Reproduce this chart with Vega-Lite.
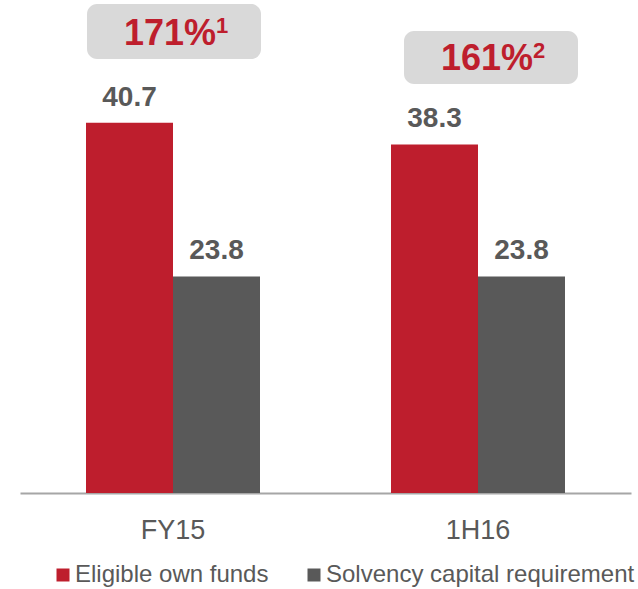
{
  "$schema": "https://vega.github.io/schema/vega-lite/v6.json",
  "width": 611,
  "height": 493,
  "autosize": "none",
  "padding": {"left": 20, "top": 0, "right": 7, "bottom": 96},
  "background": "white",
  "config": {"view": {"stroke": null}, "font": "Liberation Sans"},
  "datasets": {
    "solvency": [
      {"period": "FY15", "series": "Eligible own funds", "value": 40.7},
      {"period": "FY15", "series": "Solvency capital requirement", "value": 23.8},
      {"period": "1H16", "series": "Eligible own funds", "value": 38.3},
      {"period": "1H16", "series": "Solvency capital requirement", "value": 23.8}
    ],
    "ratios": [
      {"period": "FY15", "ratio": "171%", "note": "1"},
      {"period": "1H16", "ratio": "161%", "note": "2"}
    ]
  },
  "data": {"name": "solvency"},
  "encoding": {
    "x": {
      "field": "period", "type": "nominal", "sort": ["FY15", "1H16"],
      "scale": {"paddingInner": 0.4295, "paddingOuter": 0.2164},
      "axis": {
        "title": null, "labelAngle": 0, "ticks": false, "tickSize": 0,
        "domainColor": "#A6A6A6", "domainWidth": 2,
        "labelFontSize": 27, "labelColor": "#595959", "labelFont": "Liberation Sans",
        "labelPadding": 45, "labelBaseline": "alphabetic"
      }
    },
    "y": {
      "field": "value", "type": "quantitative",
      "scale": {"domain": [0, 54.18], "nice": false, "zero": true},
      "axis": null
    }
  },
  "layer": [
    {
      "mark": {"type": "bar"},
      "encoding": {
        "xOffset": {"field": "series", "type": "nominal", "scale": {"paddingInner": 0, "paddingOuter": 0}},
        "color": {
          "field": "series", "type": "nominal",
          "scale": {"domain": ["Eligible own funds", "Solvency capital requirement"], "range": ["#BE1E2D", "#595959"]},
          "legend": {
            "orient": "none", "legendX": 31, "legendY": 563, "direction": "horizontal",
            "title": null, "symbolType": "square", "symbolSize": 169, "symbolStrokeWidth": 0,
            "labelFontSize": 24, "labelFont": "Liberation Sans", "labelColor": "#595959",
            "labelOffset": 0, "columnPadding": 33, "padding": 0, "labelLimit": 400
          }
        }
      }
    },
    {
      "mark": {"type": "text", "dy": -17, "baseline": "alphabetic", "fontSize": 28, "fontWeight": "bold", "font": "Liberation Sans", "color": "#595959"},
      "encoding": {
        "xOffset": {"field": "series", "type": "nominal", "scale": {"paddingInner": 0, "paddingOuter": 0}},
        "text": {"field": "value", "type": "quantitative", "format": ".1f"}
      }
    },
    {
      "transform": [
        {"filter": "datum.series === 'Eligible own funds' && datum.period === 'FY15'"},
        {"lookup": "period", "from": {"data": {"name": "ratios"}, "key": "period", "fields": ["ratio", "note"]}}
      ],
      "layer": [
        {
          "mark": {"type": "rect", "fill": "#D9D9D9", "cornerRadius": 10, "xOffset": 1, "yOffset": -118.6, "y2Offset": -63.6},
          "encoding": {"y2": {"field": "value"}}
        },
        {
          "mark": {"type": "text", "align": "right", "dx": 43, "dy": -77.6, "baseline": "alphabetic", "fontSize": 36, "fontWeight": "bold", "font": "Liberation Sans", "color": "#BE1E2D"},
          "encoding": {"text": {"field": "ratio"}}
        },
        {
          "mark": {"type": "text", "align": "left", "dx": 43, "dy": -89.6, "baseline": "alphabetic", "fontSize": 22, "fontWeight": "bold", "font": "Liberation Sans", "color": "#BE1E2D"},
          "encoding": {"text": {"field": "note"}}
        }
      ]
    },
    {
      "transform": [
        {"filter": "datum.series === 'Eligible own funds' && datum.period === '1H16'"},
        {"lookup": "period", "from": {"data": {"name": "ratios"}, "key": "period", "fields": ["ratio", "note"]}}
      ],
      "layer": [
        {
          "mark": {"type": "rect", "fill": "#D9D9D9", "cornerRadius": 10, "xOffset": 13, "yOffset": -113.5, "y2Offset": -60.5},
          "encoding": {"y2": {"field": "value"}}
        },
        {
          "mark": {"type": "text", "align": "right", "dx": 55, "dy": -74.5, "baseline": "alphabetic", "fontSize": 36, "fontWeight": "bold", "font": "Liberation Sans", "color": "#BE1E2D"},
          "encoding": {"text": {"field": "ratio"}}
        },
        {
          "mark": {"type": "text", "align": "left", "dx": 55, "dy": -86.5, "baseline": "alphabetic", "fontSize": 22, "fontWeight": "bold", "font": "Liberation Sans", "color": "#BE1E2D"},
          "encoding": {"text": {"field": "note"}}
        }
      ]
    }
  ]
}
